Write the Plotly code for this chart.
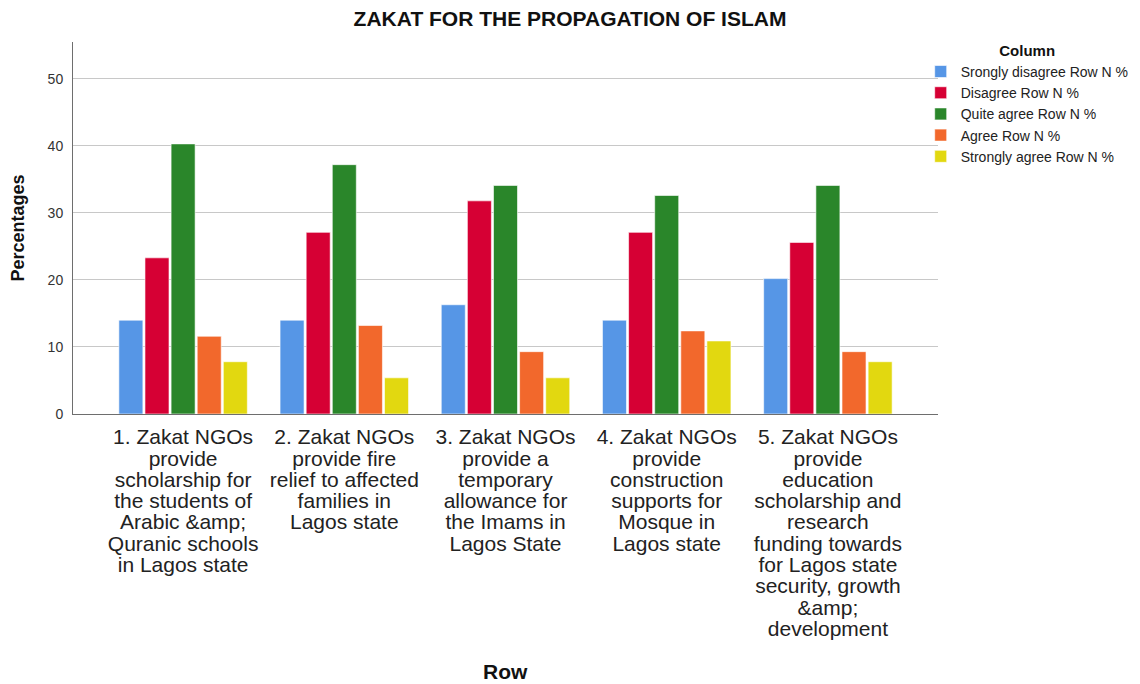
import plotly.graph_objects as go

# Categories (x axis) - one per statement
categories = [
    "1. Zakat NGOs<br>provide<br>scholarship for<br>the students of<br>Arabic &amp;amp;<br>Quranic schools<br>in Lagos state",
    "2. Zakat NGOs<br>provide fire<br>relief to affected<br>families in<br>Lagos state",
    "3. Zakat NGOs<br>provide a<br>temporary<br>allowance for<br>the Imams in<br>Lagos State",
    "4. Zakat NGOs<br>provide<br>construction<br>supports for<br>Mosque in<br>Lagos state",
    "5. Zakat NGOs<br>provide<br>education<br>scholarship and<br>research<br>funding towards<br>for Lagos state<br>security, growth<br>&amp;amp;<br>development",
]

series_names = [
    "Srongly disagree Row N %",
    "Disagree Row N %",
    "Quite agree Row N %",
    "Agree Row N %",
    "Strongly agree Row N %",
]

strongly_disagree = [14.0, 14.0, 16.3, 14.0, 20.2]
disagree = [23.3, 27.1, 31.8, 27.1, 25.6]
quite_agree = [40.3, 37.2, 34.1, 32.6, 34.1]
agree = [11.6, 13.2, 9.3, 12.4, 9.3]
strongly_agree = [7.8, 5.4, 5.4, 10.9, 7.8]

series_values = [strongly_disagree, disagree, quite_agree, agree, strongly_agree]
colors = ["#5696E6", "#D60034", "#2A862A", "#F2682C", "#E2D810"]

fig = go.Figure()

for name, vals, col in zip(series_names, series_values, colors):
    fig.add_trace(go.Bar(
        name=name,
        x=categories,
        y=vals,
        marker_color=col,
        marker_line=dict(color="rgba(255,255,255,0.6)", width=1),
    ))

font_family = "Liberation Sans, Arial, sans-serif"

fig.update_layout(
    width=1140,
    height=684,
    barmode="group",
    bargap=0.19,
    bargroupgap=0.08,
    plot_bgcolor="white",
    paper_bgcolor="white",
    font=dict(family=font_family, color="#222222"),
    title=dict(
        text="<b>ZAKAT FOR THE PROPAGATION OF ISLAM</b>",
        x=0.493, xanchor="center",
        y=0.985, yanchor="middle",
        font=dict(size=21, color="#111111"),
    ),
    margin=dict(l=65, r=210, t=34, b=278, autoexpand=False),
    legend=dict(
        title=dict(text="<b>Column</b>", side="top center",
                   font=dict(size=15, color="#111111")),
        x=0.98, xanchor="left",
        y=1.015, yanchor="top",
        font=dict(size=14, color="#222222"),
        itemwidth=30,
        tracegroupgap=0,
        bgcolor="rgba(0,0,0,0)",
    ),
    annotations=[dict(
        text="<b>Row</b>",
        xref="paper", yref="paper",
        x=0.5, y=-0.6935,
        xanchor="center", yanchor="middle",
        showarrow=False,
        font=dict(size=21, color="#111111"),
    )],
)

fig.update_yaxes(
    range=[0, 55.5],
    dtick=10,
    automargin=False,
    showgrid=True,
    gridcolor="#C8C8C8",
    gridwidth=1,
    zeroline=False,
    showline=True,
    linecolor="#6E6E6E",
    linewidth=1,
    ticks="outside",
    ticklen=6,
    tickcolor="rgba(0,0,0,0)",
    tickfont=dict(size=14, color="#333333"),
    title=dict(text="<b>Percentages</b>", font=dict(size=18, color="#111111"), standoff=18),
)

fig.update_xaxes(
    type="category",
    range=[-0.683, 4.683],
    automargin=False,
    showline=True,
    linecolor="#6E6E6E",
    linewidth=1,
    showgrid=False,
    ticks="",
    ticklabelstandoff=4,
    tickangle=0,
    tickfont=dict(size=21, color="#222222"),
)

# SPSS sets the wrapped category labels with single line spacing;
# plotly uses 1.3em, so tighten the tspans after each draw.
squeeze_js = """
var gd = document.getElementById('{plot_id}');
function squeeze() {
  gd.querySelectorAll('.xtick text tspan.line').forEach(function (t) {
    if (t.getAttribute('data-sq')) return;
    var dy = t.getAttribute('dy');
    if (dy && dy.indexOf('em') > 0) {
      t.setAttribute('dy', (parseFloat(dy) * 1.015 / 1.3) + 'em');
    }
    t.setAttribute('data-sq', '1');
  });
}
squeeze();
gd.on('plotly_afterplot', squeeze);
"""

fig.write_html("out.html", post_script=squeeze_js)
